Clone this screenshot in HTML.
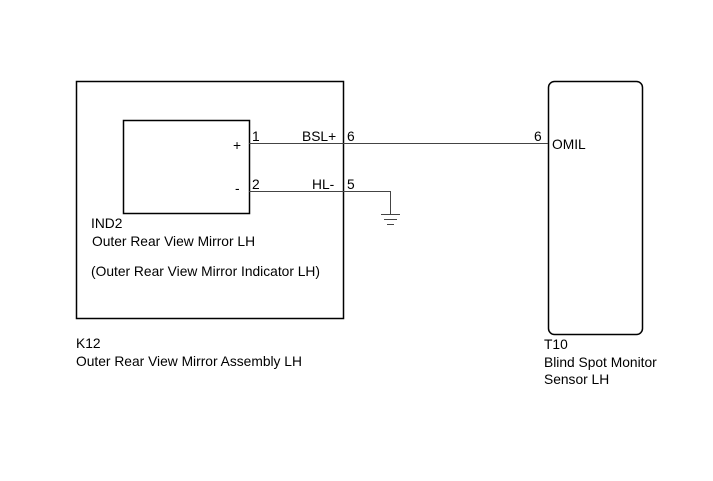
<html><body style="margin:0;background:#fff">
<svg width="713" height="481" xmlns="http://www.w3.org/2000/svg" font-family="Liberation Sans, sans-serif" font-size="13.8" fill="#000">
<rect width="713" height="481" fill="#fff"/>
<rect x="76.5" y="81.5" width="267" height="237" fill="none" stroke="#000" stroke-width="1.5"/>
<rect x="123.5" y="120.5" width="126" height="93" fill="none" stroke="#000" stroke-width="1.5"/>
<rect x="548.5" y="81.5" width="94" height="253" rx="6" fill="none" stroke="#000" stroke-width="1.5"/>
<line x1="249" y1="143.5" x2="548" y2="143.5" stroke="#444" stroke-width="1"/>
<polyline points="249,191.5 390.5,191.5 390.5,214" fill="none" stroke="#444" stroke-width="1"/>
<line x1="381" y1="214.5" x2="400" y2="214.5" stroke="#444"/>
<line x1="384" y1="219.5" x2="397" y2="219.5" stroke="#444"/>
<line x1="387" y1="224.5" x2="394" y2="224.5" stroke="#444"/>
<text x="233" y="150">+</text>
<text x="235" y="193">-</text>
<text x="252" y="141">1</text>
<text x="252" y="189">2</text>
<text x="302" y="141">BSL+</text>
<text x="312" y="189">HL-</text>
<text x="347" y="141">6</text>
<text x="347" y="189">5</text>
<text x="534" y="141">6</text>
<text x="552" y="149">OMIL</text>
<text x="91" y="228">IND2</text>
<text x="92" y="246">Outer Rear View Mirror LH</text>
<text x="91" y="276">(Outer Rear View Mirror Indicator LH)</text>
<text x="76" y="348">K12</text>
<text x="76" y="366">Outer Rear View Mirror Assembly LH</text>
<text x="544" y="349">T10</text>
<text x="544" y="367">Blind Spot Monitor</text>
<text x="544" y="384">Sensor LH</text>
</svg>
</body></html>
